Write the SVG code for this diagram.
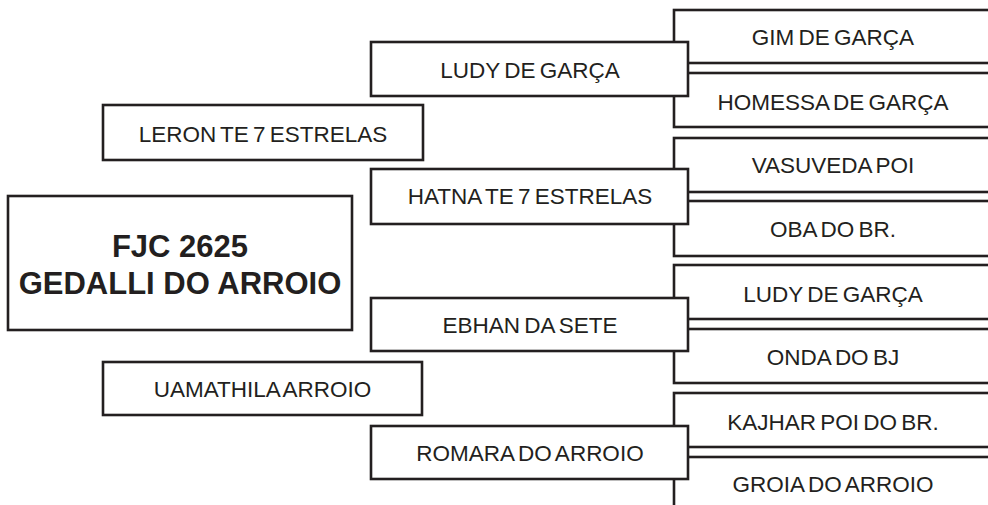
<svg xmlns="http://www.w3.org/2000/svg" width="988" height="505" viewBox="0 0 988 505">
<style>
.b{fill:#fff;stroke:#231f20;stroke-width:2.6}
.t{font-family:"Liberation Sans",Arial,sans-serif;font-size:22.5px;fill:#231f20;text-anchor:middle;word-spacing:-2px}
.m{font-family:"Liberation Sans",Arial,sans-serif;font-size:31px;font-weight:bold;fill:#231f20;text-anchor:middle}
</style>
<rect width="988" height="505" fill="#fff"/>
<g id="connectors"></g>
<g id="n-gim"><rect class="b" x="674" y="10" width="330" height="53"/><text class="t" x="833" y="45">GIM DE GARÇA</text></g>
<g id="n-homessa"><rect class="b" x="674" y="73" width="330" height="54"/><text class="t" x="833" y="110">HOMESSA DE GARÇA</text></g>
<g id="n-vasuveda"><rect class="b" x="674" y="138" width="330" height="54"/><text class="t" x="833" y="173">VASUVEDA POI</text></g>
<g id="n-oba"><rect class="b" x="674" y="201" width="330" height="55"/><text class="t" x="833" y="237">OBA DO BR.</text></g>
<g id="n-ludy2"><rect class="b" x="674" y="265" width="330" height="54"/><text class="t" x="833" y="302">LUDY DE GARÇA</text></g>
<g id="n-onda"><rect class="b" x="674" y="329" width="330" height="54"/><text class="t" x="833" y="365">ONDA DO BJ</text></g>
<g id="n-kajhar"><rect class="b" x="674" y="393" width="330" height="54"/><text class="t" x="833" y="430">KAJHAR POI DO BR.</text></g>
<g id="n-groia"><rect class="b" x="674" y="457" width="330" height="70"/><text class="t" x="833" y="492">GROIA DO ARROIO</text></g>
<g id="n-ludy"><rect class="b" x="371" y="42" width="317" height="54"/><text class="t" x="530" y="78">LUDY DE GARÇA</text></g>
<g id="n-hatna"><rect class="b" x="371" y="169" width="317" height="55"/><text class="t" x="530" y="204">HATNA TE 7 ESTRELAS</text></g>
<g id="n-ebhan"><rect class="b" x="371" y="298" width="317" height="53"/><text class="t" x="530" y="333">EBHAN DA SETE</text></g>
<g id="n-romara"><rect class="b" x="371" y="426" width="317" height="53"/><text class="t" x="530" y="461">ROMARA DO ARROIO</text></g>
<g id="n-leron"><rect class="b" x="103" y="105" width="320" height="55"/><text class="t" x="263" y="142">LERON TE 7 ESTRELAS</text></g>
<g id="n-uamathila"><rect class="b" x="103" y="362" width="319" height="53"/><text class="t" x="262.5" y="397">UAMATHILA ARROIO</text></g>
<g id="n-main"><rect class="b" x="8" y="196" width="344" height="134"/><text class="m" x="180" y="257">FJC 2625</text><text class="m" x="180" y="294">GEDALLI DO ARROIO</text></g>
</svg>
